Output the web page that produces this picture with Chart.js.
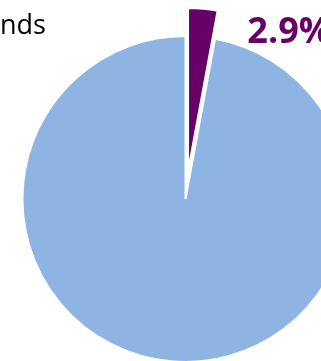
<!DOCTYPE html>
<html>
<head>
<meta charset="utf-8">
<script src="https://cdn.jsdelivr.net/npm/chart.js@4/dist/chart.umd.min.js"></script>
<style>
  html, body { margin: 0; padding: 0; background: #fff; overflow: hidden; }
  body { width: 321px; height: 361px; position: relative; }
  #wrap { position: absolute; left: 0; top: 0; width: 371px; height: 398px; }
  #title { position: absolute; left: 0; top: 10px; font-family: "Open Sans", sans-serif; font-size: 27px; color: #000; line-height: 1; white-space: nowrap; }
</style>
</head>
<body>
<div id="wrap"><canvas id="pieChart" width="371" height="398"></canvas></div>
<div id="title">nds</div>
<script>
const categories = ["Other", "Rest"];
const shares = [2.9, 97.1];
const sliceColors = ["#660066", "#8EB4E3"];
const shownLabels = ["2.9%", ""];
const explode = [112, 0];

// chart.js grows and narrows exploded slices; undo that so they keep
// the same radius and angle as the rest of the pie
const keepShape = {
    id: "keepShape",
    afterDatasetUpdate(chart, args) {
        const meta = chart.getDatasetMeta(args.index);
        meta.data.forEach((arc, i) => {
            const off = (explode[i] || 0) / 4;
            if (!off) return;
            const circ = arc.endAngle - arc.startAngle;
            const fix = 1 - Math.sin(Math.min(Math.PI, circ));
            const radOff = off * fix;
            const R = arc.outerRadius;
            arc.outerRadius = R - radOff;
            const widen = radOff / Math.PI / R / 2;
            arc.startAngle -= widen;
            arc.endAngle += widen;
        });
    }
};

const labelPlugin = {
    id: "sliceLabel",
    afterDatasetsDraw(chart) {
        const meta = chart.getDatasetMeta(0);
        const ctx = chart.ctx;
        meta.data.forEach((arc, i) => {
            if (!shownLabels[i]) return;
            const p = arc.getProps(["x", "y", "endAngle"], true);
            const r = meta.controller.outerRadius + 28;
            const ex = p.x + Math.cos(p.endAngle) * r;
            const ey = p.y + Math.sin(p.endAngle) * r;
            ctx.save();
            ctx.font = "bold 36px 'Open Sans', sans-serif";
            ctx.fillStyle = sliceColors[i];
            ctx.textAlign = "left";
            ctx.textBaseline = "alphabetic";
            ctx.fillText(shownLabels[i], ex + 23, ey + 31);
            ctx.restore();
        });
    }
};

new Chart(document.getElementById("pieChart"), {
    type: "pie",
    data: {
        labels: categories,
        datasets: [{
            data: shares,
            backgroundColor: sliceColors,
            borderColor: "#ffffff",
            borderWidth: 2,
            offset: explode
        }]
    },
    options: {
        responsive: false,
        animation: false,
        radius: 163,
        layout: { padding: 0 },
        plugins: {
            legend: { display: false },
            tooltip: { enabled: false }
        }
    },
    plugins: [keepShape, labelPlugin]
});
</script>
</body>
</html>
